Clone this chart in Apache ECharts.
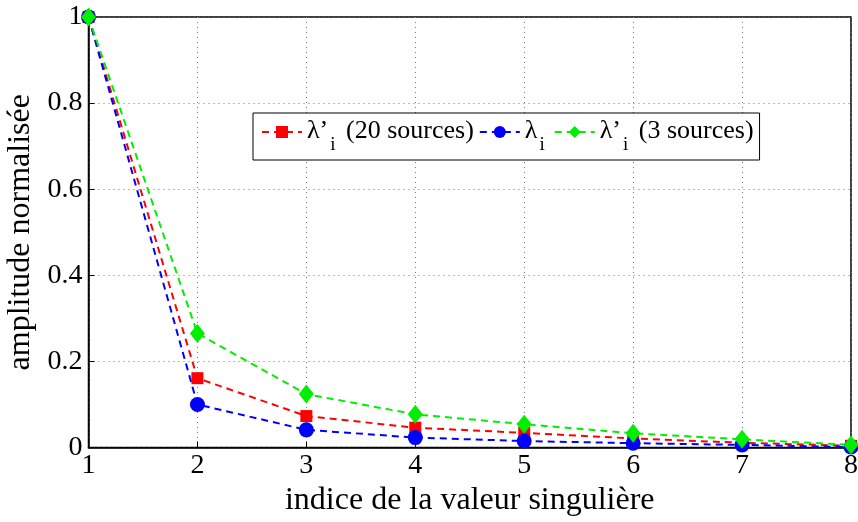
<!DOCTYPE html>
<html><head><meta charset="utf-8">
<script src="https://cdn.jsdelivr.net/npm/echarts@6/dist/echarts.min.js"></script>
<style>html,body{margin:0;padding:0;background:#fff}#c{width:858px;height:522px}</style>
</head><body><div id="c"></div>
<script>
const xIndex = [1, 2, 3, 4, 5, 6, 7, 8];
const lambdaPrime20 = [1, 0.161, 0.073, 0.046, 0.034, 0.021, 0.011, 0.004];
const lambdaI = [1, 0.100, 0.041, 0.023, 0.015, 0.010, 0.006, 0.001];
const lambdaPrime3 = [1, 0.265, 0.124, 0.077, 0.054, 0.033, 0.019, 0.006];
const seriesNames = ['λ’ (20 sources)', 'λ', 'λ’ (3 sources)'];
const legendLabels = {
  'λ’ (20 sources)': '{a|λ’}{s|i}{a| (20 sources)}',
  'λ': '{a|λ}{s|i}',
  'λ’ (3 sources)': '{a|λ’}{s|i}{a| (3 sources)}'
};
const font = "'Liberation Serif', 'Times New Roman', serif";
const pair = a => xIndex.map((x, i) => [x, a[i]]);
const chart = echarts.init(document.getElementById('c'));
const mk = (name, data, color, symbol, size) => ({
  name, type: 'line', data: pair(data), symbol, symbolSize: size,
  lineStyle: { color, width: 2, type: [7, 5] },
  itemStyle: { color }, color, z: 2
});
chart.setOption({
  animation: false,
  backgroundColor: '#fff',
  grid: { left: 88.5, right: 7, top: 17, bottom: 74.5, containLabel: false, outerBoundsMode: 'none', show: true, borderColor: '#000', borderWidth: 1.5, backgroundColor: 'transparent' },
  xAxis: {
    type: 'value', min: 1, max: 8, interval: 1,
    name: 'indice de la valeur singulière', nameLocation: 'middle', nameGap: 37,
    nameTextStyle: { fontFamily: font, fontSize: 32, color: '#000' },
    axisLine: { lineStyle: { color: '#000', width: 1.5 } },
    axisTick: { inside: true, length: 6, lineStyle: { color: '#000' } },
    axisLabel: { fontFamily: font, fontSize: 28, color: '#000', margin: 4 },
    splitLine: { show: true, lineStyle: { color: '#777', type: [1, 4], width: 1 } }
  },
  yAxis: {
    type: 'value', min: 0, max: 1, interval: 0.2,
    name: 'amplitude normalisée', nameLocation: 'middle', nameGap: 52,
    nameTextStyle: { fontFamily: font, fontSize: 32, color: '#000' },
    axisLine: { lineStyle: { color: '#000', width: 1.5 } },
    axisTick: { inside: true, length: 6, lineStyle: { color: '#000' } },
    axisLabel: { fontFamily: font, fontSize: 28, color: '#000', margin: 6, formatter: v => String(+v.toFixed(1)) },
    splitLine: { show: true, lineStyle: { color: '#777', type: [1, 4], width: 1 } }
  },
  legend: {
    data: seriesNames, left: 253, top: 113, orient: 'horizontal',
    backgroundColor: '#fff', borderColor: '#000', borderWidth: 1,
    padding: [5, 6, 5, 8], itemGap: 5, itemWidth: 40, itemHeight: 15,
    formatter: n => legendLabels[n],
    textStyle: {
      fontFamily: font, color: '#000',
      rich: {
        a: { fontFamily: font, fontSize: 26, color: '#000', verticalAlign: 'top', lineHeight: 28 },
        s: { fontFamily: font, fontSize: 19, color: '#000', verticalAlign: 'top', lineHeight: 18, padding: [18, 4, 0, 2] }
      }
    }
  },
  series: [
    mk(seriesNames[0], lambdaPrime20, '#ff0000', 'rect', 12),
    mk(seriesNames[1], lambdaI, '#0000ff', 'circle', 15),
    mk(seriesNames[2], lambdaPrime3, '#00ee00', 'diamond', [15, 19])
  ]
});
</script></body></html>
